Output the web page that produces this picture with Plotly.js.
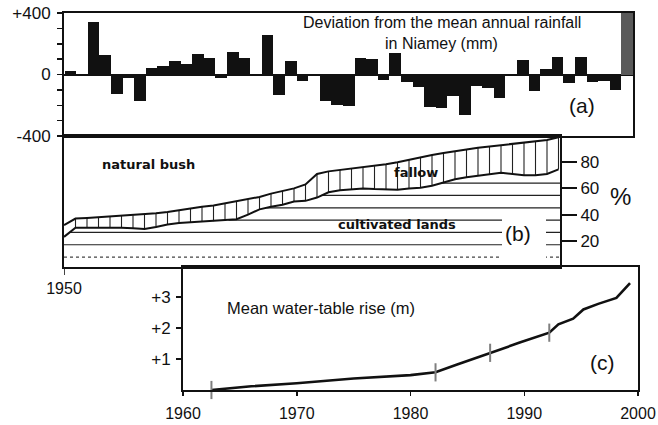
<!DOCTYPE html>
<html><head><meta charset="utf-8">
<script src="https://cdn.plot.ly/plotly-3.0.1.min.js"></script>
<style>html,body{margin:0;padding:0;background:#fff}#chart{width:658px;height:425px}</style>
</head><body><div id="chart"></div>
<script>
// ---------- DATA ----------
const rainYears = [1950,1951,1952,1953,1954,1955,1956,1957,1958,1959,
  1960,1961,1962,1963,1964,1965,1966,1967,1968,1969,
  1970,1971,1972,1973,1974,1975,1976,1977,1978,1979,
  1980,1981,1982,1983,1984,1985,1986,1987,1988,1989,
  1990,1991,1992,1993,1994,1995,1996,1997,1998];
const rainDeviation = [25,0,340,125,-125,-25,-175,40,55,90,
  70,135,110,-25,145,105,0,260,-135,85,
  -40,-10,-170,-200,-205,110,100,-35,140,-50,
  -80,-210,-215,-140,-265,-75,-85,-150,0,95,
  -105,35,115,-55,115,-50,-40,-100,400];
const rainTicks = [-400,-300,-200,-100,0,100,200,300,400];
const rainTickText = ['-400','','','','0','','','','+400'];

const landYears = [1950,1951,1952,1953,1954,1955,1956,1957,1958,1959,
  1960,1961,1962,1963,1964,1965,1966,1967,1968,1969,
  1970,1971,1972,1973,1974,1975,1976,1977,1978,1979,
  1980,1981,1982,1983,1984,1985,1986,1987,1988,1989,
  1990,1991,1992,1993];
// upper limit of fallow (boundary with natural bush), %
const fallowTop = [32,37,37.5,38,38.5,39,39.5,40,41,42,
  43.5,44.5,46,47,48.5,50,51.5,53.5,56,58,
  60,63,71,73,74,75,76,77,78.5,80,
  82,84,85.5,87,88.5,90,91,92,93,94,
  95,96,97,99];
// upper limit of cultivated lands, %
const cultivatedTop = [23,30,30,30,30.5,30,29.5,29,30.5,32.5,
  33.5,34,34.5,35,35.5,36.5,40,44,46,47.5,
  50,50.5,53,57,58.5,59.5,60,59.5,59,59,
  60,60.5,62,64.5,67,68.5,69.5,71,72,71,
  70,70,71,74.5];
const pctTicks = [20,40,60,80];

const wtYears = [1962.5,1966,1970,1975,1980,1982.2,1984.1,1987,1989.6,1992.2,1993,1994.3,1995.2,1996.5,1998.1,1999.3];
const wtRise  = [0,0.12,0.22,0.37,0.48,0.57,0.82,1.2,1.53,1.85,2.12,2.3,2.6,2.78,2.97,3.45];
const wtSurveyYears = [1962.5,1982.2,1987,1992.2];
const wtSurveyRise  = [0,0.57,1.2,1.85];
const wtTicks = [1,2,3];
const wtTickText = ['+1','+2','+3'];
const decadeTicks = [1960,1970,1980,1990,2000];

// ---------- LAYOUT HELPERS ----------
const W = 658, H = 425;
const px = x => x / W;
const py = y => 1 - y / H;
const SANS = 'Liberation Sans, Arial, Helvetica, sans-serif';
const BOLD = 'DejaVu Sans, Verdana, sans-serif';
const INK = '#111';

// ---------- TRACES ----------
const traces = [];
traces.push({
  type: 'bar', x: rainYears, y: rainDeviation, xaxis: 'x', yaxis: 'y',
  width: 1,
  marker: { color: rainDeviation.map(v => v >= 400 ? '#5a5a5a' : INK), line: { width: 0 } },
  hoverinfo: 'skip'
});

// cultivated lands horizontal hatching, clipped at the cultivated boundary
const hx = [], hy = [], dx = [], dy = [];
const B_END = 1994;
for (let k = 0, p = 7.6; p < 70; k++, p += 9.4) {
  let start = landYears[0];
  for (let i = 0; i < landYears.length; i++) {
    if (cultivatedTop[i] >= p) {
      if (i > 0) {
        const t = (p - cultivatedTop[i-1]) / (cultivatedTop[i] - cultivatedTop[i-1]);
        start = landYears[i-1] + t * (landYears[i] - landYears[i-1]);
      }
      break;
    }
  }
  const tx = k === 0 ? dx : hx, ty = k === 0 ? dy : hy;
  tx.push(start, B_END, null); ty.push(p, p, null);
}
traces.push({ type: 'scatter', mode: 'lines', x: hx, y: hy, xaxis: 'x2', yaxis: 'y2',
  line: { color: '#222', width: 1.2 }, hoverinfo: 'skip' });
traces.push({ type: 'scatter', mode: 'lines', x: dx, y: dy, xaxis: 'x2', yaxis: 'y2',
  line: { color: '#444', width: 1.2, dash: 'dot' }, hoverinfo: 'skip' });

// fallow vertical hatching
const vx = [], vy = [];
for (let i = 1; i < landYears.length; i++) {
  vx.push(landYears[i], landYears[i], null);
  vy.push(cultivatedTop[i], fallowTop[i], null);
}
traces.push({ type: 'scatter', mode: 'lines', x: vx, y: vy, xaxis: 'x2', yaxis: 'y2',
  line: { color: '#222', width: 1.1 }, hoverinfo: 'skip' });
traces.push({ type: 'scatter', mode: 'lines', x: landYears, y: fallowTop, xaxis: 'x2', yaxis: 'y2',
  line: { color: INK, width: 2 }, hoverinfo: 'skip' });
traces.push({ type: 'scatter', mode: 'lines', x: landYears, y: cultivatedTop, xaxis: 'x2', yaxis: 'y2',
  line: { color: INK, width: 2 }, hoverinfo: 'skip' });

// water table
traces.push({ type: 'scatter', mode: 'lines', x: wtYears, y: wtRise, xaxis: 'x3', yaxis: 'y3',
  line: { color: INK, width: 2.6 }, hoverinfo: 'skip' });
traces.push({ type: 'scatter', mode: 'markers', x: wtSurveyYears, y: wtSurveyRise, xaxis: 'x3', yaxis: 'y3',
  marker: { symbol: 'line-ns-open', size: 13, line: { color: '#000', width: 2 } },
  cliponaxis: false, hoverinfo: 'skip' });

// ---------- AXES ----------
const tickFont = { family: SANS, size: 17, color: INK };
const common = { showgrid: false, zeroline: false, showline: true, linecolor: INK, linewidth: 2, mirror: true, fixedrange: true };

const layout = {
  width: W, height: H,
  margin: { l: 0, r: 0, t: 0, b: 0, pad: 0 },
  paper_bgcolor: '#fff', plot_bgcolor: 'rgba(0,0,0,0)',
  showlegend: false, bargap: 0,
  xaxis: Object.assign({}, common, { domain: [px(64), px(633)], range: [1949.45, 1998.5], anchor: 'y',
    showticklabels: false, ticks: '' }),
  yaxis: Object.assign({}, common, { domain: [py(136), py(13)], range: [-400, 400], anchor: 'x',
    zeroline: true, zerolinecolor: INK, zerolinewidth: 2,
    tickvals: rainTicks, ticktext: rainTickText, ticks: 'outside', ticklen: 5, tickwidth: 1.5, tickcolor: INK,
    ticklabelstandoff: 3, tickfont: tickFont }),
  xaxis2: Object.assign({}, common, { domain: [px(64), px(560)], range: [1950, 1993.13], anchor: 'y2',
    tickvals: [1950], ticktext: ['1950'], ticks: 'outside', ticklen: 6, tickwidth: 1, tickcolor: '#444',
    ticklabelstandoff: 0, tickfont: { family: SANS, size: 16, color: INK } }),
  yaxis2: Object.assign({}, common, { domain: [py(267), py(136)], range: [0, 100], anchor: 'x2', side: 'right',
    tickvals: pctTicks, ticks: 'outside', ticklen: 15, tickwidth: 2, tickcolor: INK, tickfont: tickFont }),
  xaxis3: Object.assign({}, common, { domain: [px(183), px(638)], range: [1960, 2000], anchor: 'y3',
    tickvals: decadeTicks, ticks: 'outside', ticklen: 4, tickwidth: 1.5, tickcolor: INK,
    ticklabelstandoff: 4, tickfont: { family: SANS, size: 16, color: INK } }),
  yaxis3: Object.assign({}, common, { domain: [py(390), py(267)], range: [0, 3.97], anchor: 'x3',
    tickvals: wtTicks, ticktext: wtTickText, ticks: 'outside', ticklen: 5, tickwidth: 1.5, tickcolor: INK,
    ticklabelstandoff: 2, tickfont: tickFont }),
  shapes: [
    { type: 'rect', xref: 'paper', yref: 'paper', x0: px(502), x1: px(546), y0: py(262), y1: py(215),
      fillcolor: '#fff', line: { width: 0 }, layer: 'above' }
  ],
  annotations: []
};

function note(text, x, y, size, opts) {
  layout.annotations.push(Object.assign({
    text: text, xref: 'paper', yref: 'paper', x: px(x), y: py(y),
    xanchor: 'center', yanchor: 'middle', showarrow: false,
    font: { family: SANS, size: size, color: INK }
  }, opts || {}));
}
note('Deviation from the mean annual rainfall', 442, 23, 16);
note('in Niamey (mm)', 441, 43, 16);
note('(a)', 582, 105, 21);
const boldFont = { family: BOLD, size: 13, color: INK, weight: 700 };
note('natural bush', 148, 165, 13, { font: boldFont });
note('fallow', 416, 172, 13, { font: boldFont });
note('cultivated lands', 397, 224, 13, { font: boldFont });
note('(b)', 518, 233, 21);
note('%', 620, 196, 24);
note('Mean water-table rise (m)', 321, 308, 16.5);
note('(c)', 602, 362, 21);

Plotly.newPlot('chart', traces, layout, { staticPlot: true, displayModeBar: false });
</script>
</body></html>
